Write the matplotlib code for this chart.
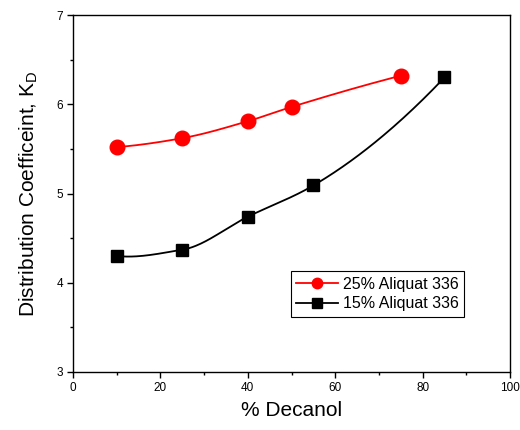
import numpy as np
import matplotlib
matplotlib.use('Agg')
from matplotlib import pyplot as plt

# % decanol vs distribution coefficient
x_25 = [10, 25, 40, 50, 75]
kd_25 = [5.52, 5.62, 5.81, 5.97, 6.32]
x_15 = [10, 25, 40, 55, 85]
kd_15 = [4.30, 4.37, 4.74, 5.09, 6.30]

labels = ['25% Aliquat 336', '15% Aliquat 336']


def smooth(x, y, n=200):
    # monotone cubic (PCHIP) through the points, no overshoot
    x = np.asarray(x, float)
    y = np.asarray(y, float)
    h = np.diff(x)
    d = np.diff(y) / h
    m = np.zeros(len(x))
    for i in range(1, len(x) - 1):
        if d[i - 1] * d[i] > 0:
            w1 = 2 * h[i] + h[i - 1]
            w2 = h[i] + 2 * h[i - 1]
            m[i] = (w1 + w2) / (w1 / d[i - 1] + w2 / d[i])
    m[0] = ((2 * h[0] + h[1]) * d[0] - h[0] * d[1]) / (h[0] + h[1])
    m[-1] = ((2 * h[-1] + h[-2]) * d[-1] - h[-1] * d[-2]) / (h[-1] + h[-2])
    xs = np.linspace(x[0], x[-1], n)
    j = np.clip(np.searchsorted(x, xs) - 1, 0, len(x) - 2)
    t = (xs - x[j]) / h[j]
    h00 = 2 * t ** 3 - 3 * t ** 2 + 1
    h10 = t ** 3 - 2 * t ** 2 + t
    h01 = -2 * t ** 3 + 3 * t ** 2
    h11 = t ** 3 - t ** 2
    ys = h00 * y[j] + h10 * h[j] * m[j] + h01 * y[j + 1] + h11 * h[j] * m[j + 1]
    return xs, ys


plt.rcParams['font.family'] = ['Liberation Sans', 'DejaVu Sans']

fig = plt.figure(figsize=(5.2, 4.3), dpi=100)
ax = fig.add_axes([0.1404, 0.1349, 0.8404, 0.8302])

sx, sy = smooth(x_25, kd_25)
ax.plot(sx, sy, color='red', lw=1.3)
ax.plot(x_25, kd_25, 'o', color='red', ms=10.5)
ax.plot([], [], '-o', color='red', lw=1.3, ms=7.5, label=labels[0])

sx, sy = smooth(x_15, kd_15)
ax.plot(sx, sy, color='black', lw=1.3)
ax.plot(x_15, kd_15, 's', color='black', ms=9)
ax.plot([], [], '-s', color='black', lw=1.3, ms=6.5, label=labels[1])

ax.set_xlim(0, 100)
ax.set_ylim(3, 7)
ax.set_xticks(np.arange(0, 101, 20))
ax.set_xticks(np.arange(10, 100, 20), minor=True)
ax.set_yticks(np.arange(3, 7.1, 1))
ax.set_yticks(np.arange(3.5, 7, 1), minor=True)
ax.tick_params(which='major', direction='out', length=4, width=1, labelsize=8.5, pad=3)
ax.tick_params(which='minor', direction='out', length=2.5, width=1)
for s in ax.spines.values():
    s.set_linewidth(1)

ax.set_xlabel('% Decanol', fontsize=15, labelpad=5)
ax.set_ylabel('Distribution Coefficeint, K$_\\mathregular{D}$', fontsize=15, labelpad=12)

leg = ax.legend(loc='lower right', bbox_to_anchor=(0.895, 0.154), fontsize=11.5,
                frameon=True, fancybox=False, edgecolor='black', framealpha=1,
                handlelength=2.6, borderpad=0.35, labelspacing=0.3, handletextpad=0.3,
                borderaxespad=0)
leg.get_frame().set_linewidth(0.8)

fig.savefig('out.png', dpi=100)
